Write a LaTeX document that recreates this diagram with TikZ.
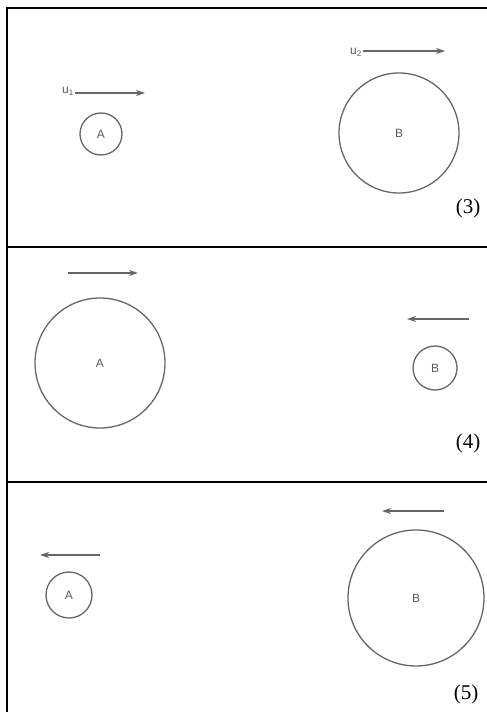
\documentclass[tikz,border=0pt]{standalone}
\usepackage{fontspec}
\setmainfont{Liberation Serif}
\setsansfont{Liberation Sans}
\usetikzlibrary{arrows.meta,positioning}

\begin{document}
\begin{tikzpicture}[x=1pt,y=-1pt,
  ball/.style={circle,draw=black!60,line width=1.3pt,inner sep=0pt,font=\sffamily\fontsize{12}{14}\selectfont\color{black!65}},
  vel/.style={-{Stealth[length=9pt,width=6pt]},draw=black!60,line width=1.3pt},
  lab/.style={font=\sffamily\fontsize{12}{14}\selectfont\color{black!65},inner sep=0pt},
  tag/.style={font=\fontsize{21}{23}\selectfont,inner sep=0pt}]
\useasboundingbox (0,0) rectangle (487,712);
% frame and dividers
\draw[line width=1.4pt] (487,8) -- (7,8) -- (7,712);
\draw[line width=1.4pt] (7,247) -- (487,247);
\draw[line width=1.4pt] (7,482) -- (487,482);
% panel (3)
\node[ball, minimum size=42pt] (A3) at (101,134) {A};
\node[ball, minimum size=120pt] (B3) at (399,133) {B};
\coordinate (a3s) at (75,93);
\coordinate (a3e) at (145,93);
\coordinate (b3s) at (363,51);
\coordinate (b3e) at (445,51);
\draw[vel] (a3s) -- (a3e);
\draw[vel] (b3s) -- (b3e);
\node[lab, left=1pt of a3s, yshift=2pt] (u1) {u\textsubscript{1}};
\node[lab, left=1pt of b3s, yshift=-1pt] (u2) {u\textsubscript{2}};
\node[tag] (t3) at (468,208) {(3)};
% panel (4)
\node[ball, minimum size=130pt] (A4) at (100,363) {A};
\node[ball, minimum size=44pt] (B4) at (435,368) {B};
\coordinate (a4s) at (68,273);
\coordinate (a4e) at (138,273);
\coordinate (b4s) at (469,319);
\coordinate (b4e) at (407,319);
\draw[vel] (a4s) -- (a4e);
\draw[vel] (b4s) -- (b4e);
\node[tag] (t4) at (468,443) {(4)};
% panel (5)
\node[ball, minimum size=46pt] (A5) at (69,595) {A};
\node[ball, minimum size=136pt] (B5) at (416,598) {B};
\coordinate (a5s) at (100,555);
\coordinate (a5e) at (40,555);
\coordinate (b5s) at (444,511);
\coordinate (b5e) at (382,511);
\draw[vel] (a5s) -- (a5e);
\draw[vel] (b5s) -- (b5e);
\node[tag] (t5) at (466,694) {(5)};
\end{tikzpicture}
\end{document}
